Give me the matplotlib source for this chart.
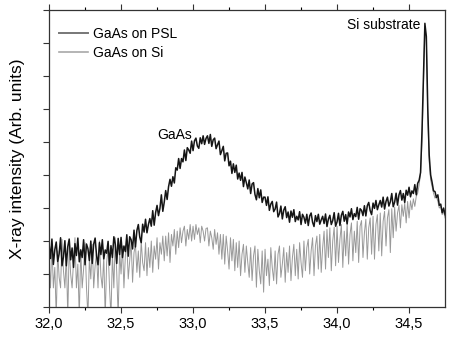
import matplotlib
matplotlib.use("Agg")
import matplotlib.pyplot as plt
import numpy as np

plt.rcParams["font.family"] = ["Liberation Sans", "DejaVu Sans"]

# 2-theta grid (deg), step 0.01 from 32.00 to 34.75
two_theta = np.round(np.arange(32.0, 34.7501, 0.01), 2)

# GaAs on PSL, intensity (arb. units)
psl = [
    1.92, 1.47, 2.06, 1.29, 1.74, 1.97, 1.38, 1.61, 2.10, 1.25,
    1.52, 2.01, 1.25, 1.83, 2.06, 1.43, 1.79, 1.20, 1.92, 1.56,
    2.09, 1.37, 1.73, 1.50, 2.04, 1.28, 1.91, 1.77, 1.41, 2.00,
    1.32, 1.91, 2.09, 1.55, 1.28, 1.95, 1.59, 2.04, 1.46, 1.73,
    1.63, 1.99, 1.27, 1.86, 1.50, 2.13, 1.90, 1.32, 2.08, 1.59,
    2.11, 1.50, 1.85, 1.68, 2.19, 1.54, 2.13, 2.04, 1.76, 2.33,
    1.82, 2.32, 2.50, 2.12, 1.95, 2.51, 2.27, 2.66, 2.25, 2.50,
    2.68, 2.45, 2.92, 2.48, 2.86, 3.08, 2.77, 2.99, 3.40, 2.90,
    3.18, 3.53, 3.26, 3.65, 3.87, 3.66, 3.95, 3.76, 4.22, 4.15,
    4.50, 4.20, 4.50, 4.40, 4.76, 4.44, 4.83, 4.76, 4.66, 5.03,
    4.74, 5.04, 5.12, 4.88, 4.81, 5.13, 4.95, 5.19, 4.93, 5.11,
    5.19, 4.96, 5.23, 4.87, 5.07, 5.12, 4.80, 4.92, 5.03, 4.62,
    4.74, 4.87, 4.43, 4.66, 4.67, 4.28, 4.42, 4.05, 4.34, 4.08,
    4.30, 3.88, 4.06, 3.84, 4.08, 3.65, 3.94, 3.77, 3.58, 3.85,
    3.44, 3.73, 3.77, 3.41, 3.25, 3.59, 3.31, 3.55, 3.17, 3.33,
    3.33, 3.08, 3.34, 2.93, 3.12, 3.20, 2.89, 2.97, 3.18, 2.73,
    2.83, 3.06, 2.67, 2.94, 3.04, 2.71, 2.88, 2.57, 2.91, 2.72,
    2.95, 2.59, 2.75, 2.64, 2.89, 2.50, 2.81, 2.72, 2.54, 2.81,
    2.47, 2.76, 2.85, 2.57, 2.44, 2.77, 2.59, 2.81, 2.51, 2.64,
    2.75, 2.53, 2.82, 2.44, 2.67, 2.78, 2.50, 2.62, 2.86, 2.45,
    2.58, 2.84, 2.47, 2.78, 2.90, 2.60, 2.80, 2.52, 2.88, 2.73,
    2.98, 2.65, 2.83, 2.74, 3.02, 2.66, 2.98, 2.93, 2.77, 3.07,
    2.76, 3.07, 3.17, 2.92, 2.80, 3.15, 2.99, 3.23, 2.95, 3.10,
    3.23, 3.03, 3.33, 2.97, 3.20, 3.33, 3.06, 3.19, 3.44, 3.04,
    3.18, 3.45, 3.09, 3.40, 3.53, 3.24, 3.44, 3.17, 3.54, 3.39,
    3.63, 3.34, 3.52, 3.44, 3.71, 3.40, 3.75, 3.84, 4.08, 5.34,
    7.00, 8.60, 8.20, 6.00, 4.60, 4.00, 3.78, 3.52, 3.50, 3.32,
    3.40, 3.08, 3.12, 2.86, 3.00, 2.80,
]

# GaAs on Si, intensity (arb. units)
si = [
    1.45, 0.58, 1.90, 0.58, 1.20, -0.30, 1.70, 0.90, 0.58, 2.05,
    1.10, 0.58, 1.60, -0.30, 1.85, 1.00, 0.58, 1.40, 2.10, 0.58,
    1.30, -0.30, 1.75, 0.58, 1.15, 1.95, 0.58, -0.30, 1.50, 0.85,
    1.90, 0.58, 1.25, 1.65, 0.58, 2.00, 0.95, 0.58, 1.55, -0.30,
    1.35, 1.80, 0.58, -0.30, 1.60, 0.58, 2.10, 1.05, -0.30, 1.70,
    1.00, 1.85, 0.58, 1.55, 1.95, 0.85, 1.40, 2.00, 0.75, 1.65,
    1.90, 1.05, 1.70, 0.90, 2.00, 1.35, 1.10, 1.95, 0.95, 1.80,
    1.20, 2.00, 1.05, 1.85, 1.45, 2.10, 1.15, 1.95, 1.60, 2.15,
    1.40, 2.15, 1.55, 2.25, 1.35, 2.20, 1.85, 2.35, 1.60, 2.30,
    1.80, 2.40, 1.95, 2.30, 2.45, 1.85, 2.35, 2.05, 2.50, 2.00,
    2.45, 2.05, 2.50, 2.20, 2.40, 1.95, 2.45, 2.30, 2.00, 2.38,
    2.40, 1.85, 2.30, 2.10, 1.75, 2.35, 1.90, 2.25, 1.60, 2.20,
    1.45, 2.20, 1.30, 2.15, 1.70, 1.15, 2.10, 1.40, 2.05, 1.10,
    1.95, 1.20, 2.00, 0.95, 1.60, 1.90, 1.05, 1.85, 1.35, 0.90,
    1.80, 0.80, 1.55, 1.85, 0.60, 1.75, 1.10, 0.70, 1.70, 0.45,
    1.75, 0.95, 1.45, 0.65, 1.80, 1.20, 0.80, 1.70, 0.70, 1.60,
    1.85, 0.90, 1.30, 1.80, 0.75, 1.65, 1.05, 1.85, 0.80, 1.50,
    1.90, 0.95, 1.75, 0.85, 1.95, 1.35, 0.90, 2.00, 1.10, 1.80,
    2.05, 1.00, 1.70, 2.10, 0.95, 1.85, 2.15, 1.15, 2.20, 1.05,
    1.80, 2.30, 1.15, 2.35, 1.50, 2.40, 1.10, 2.00, 2.42, 1.25,
    2.45, 1.35, 2.05, 2.50, 1.20, 2.30, 1.55, 2.55, 1.30, 2.20,
    2.55, 1.40, 2.30, 1.65, 2.60, 1.35, 2.45, 2.62, 1.50, 2.25,
    2.66, 1.45, 2.40, 2.70, 1.60, 2.75, 1.45, 2.50, 2.80, 1.70,
    2.85, 1.55, 2.60, 2.90, 1.85, 2.70, 2.95, 1.65, 2.98, 2.10,
    3.03, 2.30, 2.85, 3.08, 2.40, 3.10, 2.75, 3.15, 2.55, 3.20,
    2.70, 3.22, 2.95, 3.28, 3.05, 3.35, 3.45, 3.70, 4.05, 5.00,
    6.80, 8.50, 8.10, 5.80, 4.40, 3.85, 3.65, 3.45, 3.30, 3.35,
    3.20, 3.00, 3.05, 2.80, 2.90, 2.70,
]

xticks = [32.0, 32.5, 33.0, 33.5, 34.0, 34.5]
xtick_labels = ["32,0", "32,5", "33,0", "33,5", "34,0", "34,5"]

fig = plt.figure(figsize=(4.5, 3.37), dpi=100)
ax = fig.add_axes([0.109, 0.089, 0.88, 0.881])

ax.plot(two_theta, si, color="#999999", lw=0.7, label="GaAs on Si")
ax.plot(two_theta, psl, color="#151515", lw=1.1, label="GaAs on PSL")

ax.set_xlim(32.0, 34.75)
ax.set_ylim(0, 9)

ax.set_xticks(xticks)
ax.set_xticklabels(xtick_labels, fontsize=10.5)
ax.set_xticks(np.arange(32.25, 34.75, 0.5), minor=True)
ax.set_yticks(range(0, 10))
ax.set_yticklabels([])
ax.tick_params(axis="both", which="major", direction="out", length=4, width=0.8, color="#333333")
ax.tick_params(axis="x", which="minor", direction="out", length=2.5, width=0.8)
ax.tick_params(axis="x", which="both", top=True)

ax.set_ylabel("X-ray intensity (Arb. units)", fontsize=12.5, labelpad=10)

ax.text(32.75, 5.2, "GaAs", fontsize=10, ha="left", va="center")
ax.text(34.58, 8.55, "Si substrate", fontsize=10, ha="right", va="center")

handles, labels = ax.get_legend_handles_labels()
leg = ax.legend(handles[::-1], labels[::-1], loc="upper left", bbox_to_anchor=(0.0, 0.975),
                frameon=False, fontsize=10, handlelength=2.1, handletextpad=0.4,
                labelspacing=0.35, borderaxespad=0.3)
leg.get_lines()[0].set_color("#777777")
leg.get_lines()[0].set_linewidth(1.4)
leg.get_lines()[1].set_color("#a8a8a8")
leg.get_lines()[1].set_linewidth(1.2)

for s in ax.spines.values():
    s.set_linewidth(0.9)
    s.set_color("#333333")

fig.savefig("out.png", dpi=100)
